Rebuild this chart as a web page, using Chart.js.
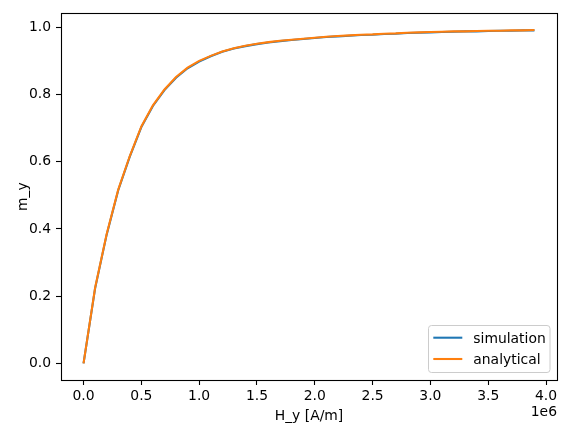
<!DOCTYPE html>
<html>
<head>
<meta charset="utf-8">
<script src="https://cdn.jsdelivr.net/npm/chart.js@4.4.1/dist/chart.umd.min.js"></script>
<style>
  html, body { margin: 0; padding: 0; background: #ffffff; }
  #wrap { width: 567px; height: 433px; }
</style>
</head>
<body>
<div id="wrap"><canvas id="c" width="567" height="433"></canvas></div>
<script>
// ---- data ----
const H_VALUES = [0.0e6, 0.1e6, 0.2e6, 0.3e6, 0.4e6, 0.5e6, 0.6e6, 0.7e6, 0.8e6, 0.9e6,
                  1.0e6, 1.1e6, 1.2e6, 1.3e6, 1.4e6, 1.5e6, 1.6e6, 1.7e6, 1.8e6, 1.9e6,
                  2.0e6, 2.1e6, 2.2e6, 2.3e6, 2.4e6, 2.5e6, 2.6e6, 2.7e6, 2.8e6, 2.9e6,
                  3.0e6, 3.1e6, 3.2e6, 3.3e6, 3.4e6, 3.5e6, 3.6e6, 3.7e6, 3.8e6, 3.9e6];
const SIMULATION = [0.000, 0.223, 0.383, 0.515, 0.615, 0.703, 0.766, 0.813, 0.850, 0.878,
                    0.898, 0.914, 0.927, 0.937, 0.944, 0.950, 0.955, 0.959, 0.962, 0.965,
                    0.968, 0.971, 0.973, 0.975, 0.977, 0.978, 0.980, 0.981, 0.983, 0.984,
                    0.985, 0.986, 0.987, 0.988, 0.988, 0.989, 0.990, 0.990, 0.991, 0.991];
const ANALYTICAL = [0.000, 0.225, 0.385, 0.517, 0.617, 0.705, 0.768, 0.815, 0.852, 0.880,
                    0.900, 0.915, 0.928, 0.938, 0.945, 0.951, 0.956, 0.960, 0.963, 0.966,
                    0.969, 0.972, 0.974, 0.976, 0.978, 0.979, 0.981, 0.982, 0.984, 0.985,
                    0.986, 0.987, 0.988, 0.988, 0.989, 0.990, 0.990, 0.991, 0.991, 0.992];
const SERIES_LABELS = ['simulation', 'analytical'];
const X_TICKS = [0.0e6, 0.5e6, 1.0e6, 1.5e6, 2.0e6, 2.5e6, 3.0e6, 3.5e6, 4.0e6];
const Y_TICKS = [0.0, 0.2, 0.4, 0.6, 0.8, 1.0];
const X_TITLE = 'H_y [A/m]';
const Y_TITLE = 'm_y';
const X_OFFSET_TEXT = '1e6';

const FONT = 'DejaVu Sans';
const FS = 13.9;
const COLORS = ['#1f77b4', '#ff7f0e'];

const decor = {
  id: 'decor',
  afterDraw(chart) {
    const ctx = chart.ctx;
    const a = chart.chartArea;
    ctx.save();
    // frame
    ctx.strokeStyle = '#000000';
    ctx.lineWidth = 1.1;
    ctx.strokeRect(Math.round(a.left) + 0.5, Math.round(a.top) + 0.5,
                   Math.round(a.right - a.left), Math.round(a.bottom - a.top));
    // axis titles
    ctx.fillStyle = '#000000';
    ctx.font = FS + 'px "' + FONT + '"';
    ctx.textAlign = 'center';
    ctx.textBaseline = 'alphabetic';
    ctx.fillText(X_TITLE, (a.left + a.right) / 2, 420);
    ctx.save();
    ctx.translate(26.5, (a.top + a.bottom) / 2);
    ctx.rotate(-Math.PI / 2);
    ctx.fillText(Y_TITLE, 0, 0);
    ctx.restore();
    // offset text
    ctx.textAlign = 'right';
    ctx.fillText(X_OFFSET_TEXT, a.right, 416);
    // legend
    const bx = 428.5, by = 325.5, bw = 121.5, bh = 47;
    ctx.beginPath();
    if (ctx.roundRect) ctx.roundRect(bx, by, bw, bh, 3); else ctx.rect(bx, by, bw, bh);
    ctx.fillStyle = 'rgba(255,255,255,0.8)';
    ctx.fill();
    ctx.strokeStyle = '#cccccc';
    ctx.lineWidth = 1;
    ctx.stroke();
    const ds = chart.data.datasets;
    const rows = [337.7, 359.0];
    ds.forEach((d, i) => {
      const y = rows[i];
      ctx.beginPath();
      ctx.strokeStyle = d.borderColor;
      ctx.lineWidth = 2.08;
      ctx.moveTo(433.3, y);
      ctx.lineTo(462.3, y);
      ctx.stroke();
      ctx.fillStyle = '#000000';
      ctx.textAlign = 'left';
      ctx.textBaseline = 'alphabetic';
      ctx.fillText(d.label, 473.3, y + 5.3);
    });
    ctx.restore();
  }
};

const pts = (ys) => H_VALUES.map((x, i) => ({ x: x, y: ys[i] }));

new Chart(document.getElementById('c'), {
  type: 'line',
  data: {
    datasets: [
      { label: SERIES_LABELS[0], data: pts(SIMULATION), borderColor: COLORS[0], backgroundColor: COLORS[0],
        borderWidth: 2.08, pointRadius: 0, tension: 0, fill: false, order: 1 },
      { label: SERIES_LABELS[1], data: pts(ANALYTICAL), borderColor: COLORS[1], backgroundColor: COLORS[1],
        borderWidth: 2.08, pointRadius: 0, tension: 0, fill: false, order: 0 }
    ]
  },
  options: {
    responsive: false,
    animation: false,
    devicePixelRatio: 1,
    layout: { padding: { left: 0, right: 10, top: 10, bottom: 0 } },
    plugins: { legend: { display: false }, tooltip: { enabled: false }, title: { display: false } },
    scales: {
      x: {
        type: 'linear',
        min: -0.195e6,
        max: 4.095e6,
        afterBuildTicks: (s) => { s.ticks = X_TICKS.map(v => ({ value: v })); },
        afterFit: (s) => { s.height = 53; },
        grid: { display: true, drawOnChartArea: false, drawTicks: true, tickLength: 5, tickWidth: 1.1, tickColor: '#000000' },
        border: { display: false },
        ticks: {
          autoSkip: false, maxRotation: 0, padding: 3,
          color: '#000000', font: { family: FONT, size: FS },
          callback: (v) => (v / 1e6).toFixed(1)
        }
      },
      y: {
        type: 'linear',
        min: -0.0496,
        max: 1.0416,
        afterBuildTicks: (s) => { s.ticks = Y_TICKS.map(v => ({ value: v })); },
        afterFit: (s) => { s.width = 61; },
        grid: { display: true, drawOnChartArea: false, drawTicks: true, tickLength: 5, tickWidth: 1.1, tickColor: '#000000' },
        border: { display: false },
        ticks: {
          autoSkip: false, padding: 5,
          color: '#000000', font: { family: FONT, size: FS },
          callback: (v) => v.toFixed(1)
        }
      }
    }
  },
  plugins: [decor]
});
</script>
</body>
</html>
